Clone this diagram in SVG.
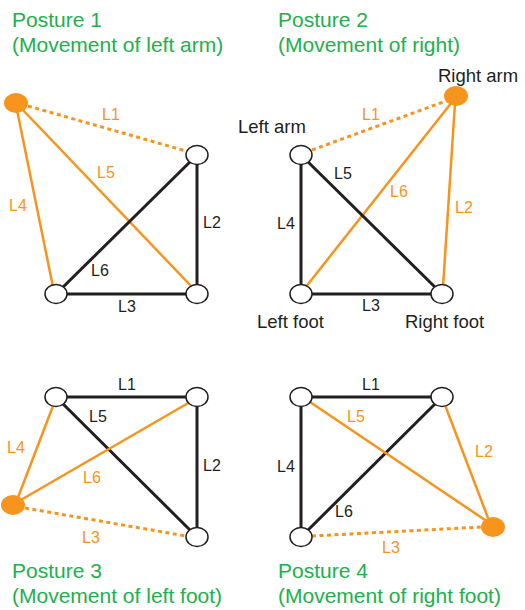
<svg xmlns="http://www.w3.org/2000/svg" width="525" height="610" viewBox="0 0 525 610">
<style>
text{font-family:"Liberation Sans",Arial,sans-serif}
.t{fill:#21B04B;font-size:21px}
.l{font-size:16px}
.n{font-size:18.5px;fill:#231F20}
.k{fill:#231F20}
.o{fill:#F7941D}
.bk{stroke:#231F20;stroke-width:3;fill:none}
.or{stroke:#F7941D;stroke-width:2.5;fill:none}
.ds{stroke:#F7941D;stroke-width:3;fill:none;stroke-dasharray:4 3.5}
.node{fill:#fff;stroke:#231F20;stroke-width:1.5}
.fn{fill:#F7941D}
</style>
<g id="connectors">
<!-- Posture 1 -->
<line class="ds" x1="28" y1="106" x2="186" y2="151"/>
<line class="or" x1="17" y1="110" x2="53" y2="287"/>
<line class="or" x1="21" y1="108" x2="192" y2="287"/>
<line class="bk" x1="56" y1="294" x2="197" y2="155"/>
<line class="bk" x1="197" y1="155" x2="197" y2="294"/>
<line class="bk" x1="56" y1="294" x2="197" y2="294"/>
<!-- Posture 2 -->
<line class="ds" x1="312" y1="150" x2="446" y2="101"/>
<line class="or" x1="305" y1="288" x2="452" y2="102"/>
<line class="or" x1="455" y1="103" x2="443" y2="287"/>
<line class="bk" x1="301" y1="155" x2="301" y2="294"/>
<line class="bk" x1="301" y1="155" x2="442" y2="294"/>
<line class="bk" x1="301" y1="294" x2="442" y2="294"/>
<!-- Posture 3 -->
<line class="bk" x1="56" y1="397" x2="197" y2="397"/>
<line class="bk" x1="56" y1="397" x2="197" y2="537"/>
<line class="bk" x1="197" y1="397" x2="197" y2="537"/>
<line class="or" x1="17" y1="500" x2="53" y2="406"/>
<line class="or" x1="19" y1="501" x2="190" y2="402"/>
<line class="ds" x1="25" y1="508" x2="186" y2="536"/>
<!-- Posture 4 -->
<line class="bk" x1="301" y1="397" x2="442" y2="397"/>
<line class="bk" x1="301" y1="397" x2="301" y2="537"/>
<line class="bk" x1="301" y1="537" x2="442" y2="397"/>
<line class="or" x1="307" y1="400" x2="488" y2="522"/>
<line class="or" x1="445" y1="405" x2="488" y2="518"/>
<line class="ds" x1="312" y1="536" x2="482" y2="527"/>
</g>
<g id="posture1">
<text class="t" x="12" y="27">Posture 1</text>
<text class="t" x="12" y="52">(Movement of left arm)</text>
<ellipse id="p1-leftarm" class="fn" cx="16" cy="103" rx="12" ry="10"/>
<ellipse id="p1-rightarm" class="node" cx="197" cy="155" rx="11" ry="9.5"/>
<ellipse id="p1-leftfoot" class="node" cx="56" cy="294" rx="11" ry="9.5"/>
<ellipse id="p1-rightfoot" class="node" cx="197" cy="294" rx="11" ry="9.5"/>
<text class="l o" x="102" y="120">L1</text>
<text class="l o" x="97" y="178">L5</text>
<text class="l o" x="9" y="211">L4</text>
<text class="l k" x="203" y="228">L2</text>
<text class="l k" x="91" y="276">L6</text>
<text class="l k" x="118" y="312">L3</text>
</g>
<g id="posture2">
<text class="t" x="278" y="27">Posture 2</text>
<text class="t" x="278" y="52">(Movement of right)</text>
<ellipse id="p2-rightarm" class="fn" cx="456" cy="96" rx="12" ry="10"/>
<ellipse id="p2-leftarm" class="node" cx="301" cy="155" rx="11" ry="9.5"/>
<ellipse id="p2-leftfoot" class="node" cx="301" cy="294" rx="11" ry="9.5"/>
<ellipse id="p2-rightfoot" class="node" cx="442" cy="294" rx="11" ry="9.5"/>
<text class="n" x="438" y="82">Right arm</text>
<text class="n" x="238" y="133">Left arm</text>
<text class="n" x="257" y="328">Left foot</text>
<text class="n" x="405" y="328">Right foot</text>
<text class="l o" x="362" y="120">L1</text>
<text class="l k" x="334" y="179">L5</text>
<text class="l o" x="390" y="197">L6</text>
<text class="l o" x="455" y="213">L2</text>
<text class="l k" x="277" y="229">L4</text>
<text class="l k" x="362" y="311">L3</text>
</g>
<g id="posture3">
<ellipse id="p3-leftarm" class="node" cx="56" cy="397" rx="11" ry="9.5"/>
<ellipse id="p3-rightarm" class="node" cx="197" cy="397" rx="11" ry="9.5"/>
<ellipse id="p3-rightfoot" class="node" cx="197" cy="537" rx="11" ry="9.5"/>
<ellipse id="p3-leftfoot" class="fn" cx="13" cy="505" rx="12" ry="10"/>
<text class="l k" x="118" y="390">L1</text>
<text class="l k" x="89" y="422">L5</text>
<text class="l o" x="7" y="453">L4</text>
<text class="l k" x="203" y="471">L2</text>
<text class="l o" x="83" y="483">L6</text>
<text class="l o" x="82" y="543">L3</text>
<text class="t" x="12" y="578">Posture 3</text>
<text class="t" x="12" y="603">(Movement of left foot)</text>
</g>
<g id="posture4">
<ellipse id="p4-leftarm" class="node" cx="301" cy="397" rx="11" ry="9.5"/>
<ellipse id="p4-rightarm" class="node" cx="442" cy="397" rx="11" ry="9.5"/>
<ellipse id="p4-leftfoot" class="node" cx="301" cy="537" rx="11" ry="9.5"/>
<ellipse id="p4-rightfoot" class="fn" cx="493" cy="527" rx="12" ry="10"/>
<text class="l k" x="362" y="390">L1</text>
<text class="l o" x="347" y="422">L5</text>
<text class="l o" x="475" y="457">L2</text>
<text class="l k" x="277" y="472">L4</text>
<text class="l k" x="335" y="517">L6</text>
<text class="l o" x="382" y="553">L3</text>
<text class="t" x="278" y="578">Posture 4</text>
<text class="t" x="278" y="603">(Movement of right foot)</text>
</g>
</svg>
